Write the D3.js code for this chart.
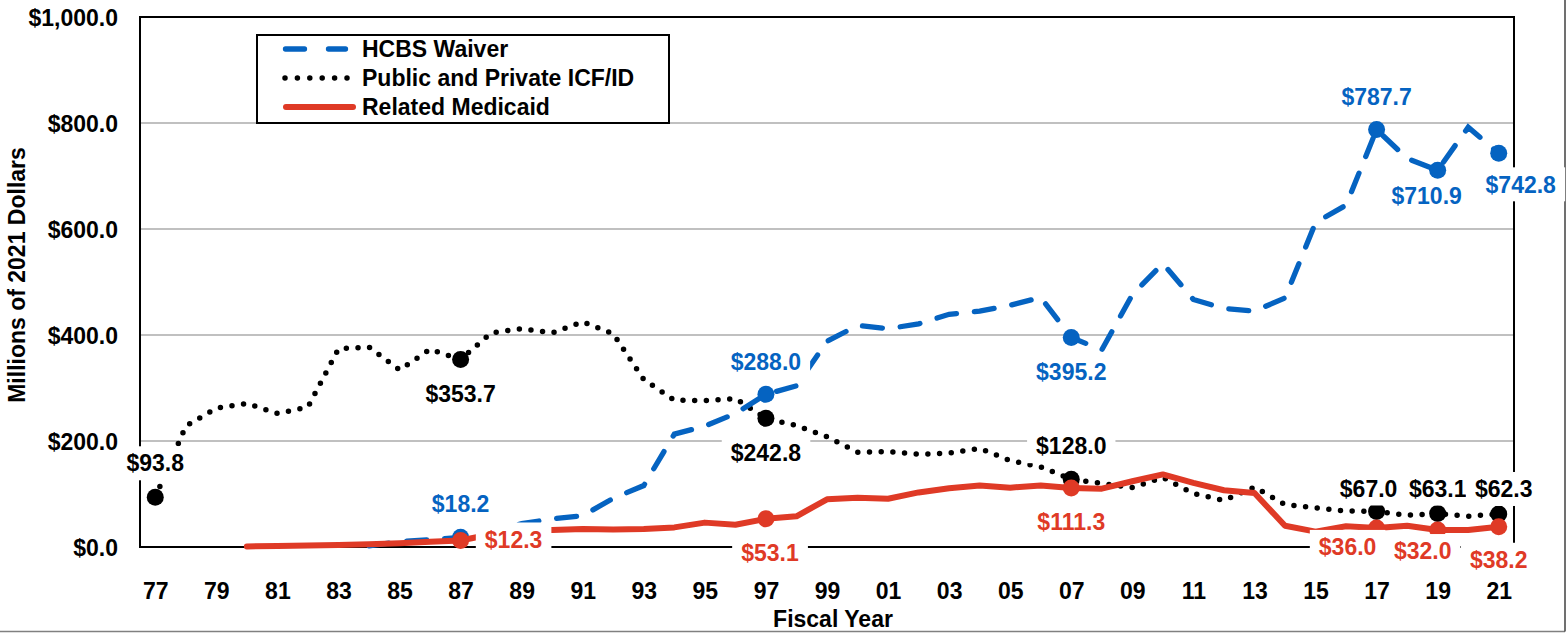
<!DOCTYPE html>
<html><head><meta charset="utf-8">
<script src="https://cdn.jsdelivr.net/npm/d3@7"></script>
<style>
body{margin:0;background:#fff;}
text{font-family:"Liberation Sans",Arial,sans-serif;font-weight:bold;}
</style>
</head><body>
<svg id="chart" width="1567" height="633"></svg>
<script>
// ---------------- DATA ----------------
const years = [1977,1978,1979,1980,1981,1982,1983,1984,1985,1986,1987,1988,1989,1990,1991,1992,1993,1994,1995,1996,1997,1998,1999,2000,2001,2002,2003,2004,2005,2006,2007,2008,2009,2010,2011,2012,2013,2014,2015,2016,2017,2018,2019,2020,2021];
const hcbsWaiver = [null,null,null,null,null,null,null,2,10,14,18.2,30,44,53,59,92,116,213,228,252,288.0,304,388,418,412,421,439,445,456,471,395.2,372,476,535,467,450,445,470,612,645,787.7,733,710.9,792,742.8];
const icfId = [93.8,228,262,271,252,264,374,377,334,373,353.7,404,412,404,425,402,316,277,276,280,242.8,229,208,179,180,175,177,186,163,151,128.0,120,112,131,101,88,113,80,74,68,67.0,60,63.1,58,62.3];
const relatedMedicaid = [null,null,null,1,2,3,4,5,7,10,12.3,24,30,32,34,33,34,37,46,42,53.1,58,90,93,91,103,111,116,112,116,111.3,110,124,137,121,107,102,40,29,39,36.0,40,32.0,32,38.2];
const seriesNames = ["HCBS Waiver","Public and Private ICF/ID","Related Medicaid"];
const xTickYears = [1977,1979,1981,1983,1985,1987,1989,1991,1993,1995,1997,1999,2001,2003,2005,2007,2009,2011,2013,2015,2017,2019,2021];
const xTickLabels = ["77","79","81","83","85","87","89","91","93","95","97","99","01","03","05","07","09","11","13","15","17","19","21"];
const yTickValues = [0,200,400,600,800,1000];
const yTickLabels = ["$0.0","$200.0","$400.0","$600.0","$800.0","$1,000.0"];
const xAxisTitle = "Fiscal Year";
const yAxisTitle = "Millions of 2021 Dollars";
// labelled points: which series / year
const labelledHcbs = [1987,1997,2007,2017,2019,2021];
const labelledIcf = [1977,1987,1997,2007,2017,2019,2021];
const labelledRelated = [1987,1997,2007,2017,2019,2021];

// ---------------- LAYOUT / STYLE ----------------
const BLUE = "#0563C1", RED = "#DF3A26", BLACK = "#000";
const FS = 23;
const plot = {l:140, r:1514, t:17, b:547};
// label offsets (center of label relative to point), per series, same order as labelled years
const hcbsOff = [[0,-34],[0,-33],[0,34],[0,-33],[-11,26],[22,31]];
const icfOff = [[0,-34],[0,34],[0,34],[0,-33],[-8,-23],[0,-25],[5,-25]];
const relOff = [[53,-1],[4,34],[0,34],[-29,19],[-15,21],[0,33]];
const MR = 8.5;

const svg = d3.select("#chart");
svg.append("rect").attr("width",1567).attr("height",633).attr("fill","#fff");

const x = d3.scalePoint().domain(years).range([plot.l, plot.r]).padding(0.5);
const y = d3.scaleLinear().domain([0,1000]).range([plot.b, plot.t]);

// gridlines
svg.append("g").selectAll("line").data(yTickValues.filter(v=>v>0 && v<1000)).join("line")
  .attr("x1",plot.l).attr("x2",plot.r).attr("y1",d=>y(d)).attr("y2",d=>y(d))
  .attr("stroke","#c0c0c0").attr("stroke-width",2);

// plot border
svg.append("rect").attr("x",plot.l).attr("y",plot.t).attr("width",plot.r-plot.l).attr("height",plot.b-plot.t)
  .attr("fill","none").attr("stroke","#000").attr("stroke-width",2);

// outer frame (right & bottom)
svg.append("line").attr("x1",0).attr("x2",1565).attr("y1",631.5).attr("y2",631.5).attr("stroke","#808080").attr("stroke-width",1.5);
svg.append("line").attr("x1",1565).attr("x2",1565).attr("y1",0).attr("y2",631.5).attr("stroke","#404040").attr("stroke-width",1.5);

// y axis tick labels
const yAxis = d3.axisLeft(y).tickValues(yTickValues).tickFormat((d,i)=>yTickLabels[i]).tickSize(0).tickPadding(22);
const gy = svg.append("g").attr("transform",`translate(${plot.l},0)`).call(yAxis);
gy.select(".domain").remove();
gy.selectAll("text").attr("font-size",FS).attr("font-family","Liberation Sans, Arial, sans-serif")
  .attr("font-weight","bold").attr("fill","#000").attr("dy","0.35em");

// x axis tick labels
const xAxis = d3.axisBottom(x).tickValues(xTickYears).tickFormat((d,i)=>xTickLabels[i]).tickSize(0).tickPadding(36);
const gx = svg.append("g").attr("transform",`translate(0,${plot.b})`).call(xAxis);
gx.select(".domain").remove();
gx.selectAll("text").attr("font-size",FS).attr("font-family","Liberation Sans, Arial, sans-serif")
  .attr("font-weight","bold").attr("fill","#000").attr("dy","0");
gx.selectAll(".tick text").attr("y",52);

// axis titles
svg.append("text").attr("x",833).attr("y",627).attr("text-anchor","middle").attr("font-size",FS).text(xAxisTitle);
svg.append("text").attr("transform","translate(25,275) rotate(-90)").attr("text-anchor","middle").attr("font-size",FS).text(yAxisTitle);

// lines
const idx = yr => years.indexOf(yr);
const lineGen = arr => d3.line().defined(d=>arr[idx(d)]!=null).x(d=>x(d)).y(d=>y(arr[idx(d)]))(years);

svg.append("path").attr("d",lineGen(icfId)).attr("fill","none").attr("stroke",BLACK)
  .attr("stroke-width",5.5).attr("stroke-linecap","round").attr("stroke-dasharray","0 11.7");
svg.append("g").selectAll("circle").data(labelledIcf).join("circle")
  .attr("cx",d=>x(d)).attr("cy",d=>y(icfId[idx(d)])).attr("r",MR).attr("fill",BLACK);

svg.append("path").attr("d",lineGen(hcbsWaiver)).attr("fill","none").attr("stroke",BLUE)
  .attr("stroke-width",5.3).attr("stroke-linecap","round").attr("stroke-dasharray","20 18");
svg.append("g").selectAll("circle").data(labelledHcbs).join("circle")
  .attr("cx",d=>x(d)).attr("cy",d=>y(hcbsWaiver[idx(d)])).attr("r",MR).attr("fill",BLUE);

svg.append("path").attr("d",lineGen(relatedMedicaid)).attr("fill","none").attr("stroke",RED)
  .attr("stroke-width",6).attr("stroke-linejoin","round").attr("stroke-linecap","round");
svg.append("g").selectAll("circle").data(labelledRelated).join("circle")
  .attr("cx",d=>x(d)).attr("cy",d=>y(relatedMedicaid[idx(d)])).attr("r",MR).attr("fill",RED);

// data labels
const fmt = v => "$" + d3.format(",.1f")(v);
const labelLayer = svg.append("g");
function addLabels(years_, arr, offs, color){
  years_.forEach((yr,i)=>{
    const v = arr[idx(yr)];
    const cx = x(yr)+offs[i][0], cy = y(v)+offs[i][1];
    const g = labelLayer.append("g");
    const rect = g.append("rect").attr("fill","#fff");
    const t = g.append("text").attr("x",cx).attr("y",cy+8.2).attr("text-anchor","middle")
      .attr("font-size",FS).attr("fill",color).text(fmt(v));
    const bb = t.node().getBBox();
    rect.attr("x",bb.x-9).attr("y",cy-17).attr("width",bb.width+18).attr("height",34);
  });
}
addLabels(labelledIcf, icfId, icfOff, BLACK);
addLabels(labelledHcbs, hcbsWaiver, hcbsOff, BLUE);
addLabels(labelledRelated, relatedMedicaid, relOff, RED);

// legend
const lg = svg.append("g");
lg.append("rect").attr("x",257).attr("y",35).attr("width",412).attr("height",88)
  .attr("fill","#fff").attr("stroke","#000").attr("stroke-width",2);
const rows = [49,78,107];
lg.append("line").attr("x1",285.5).attr("x2",345.5).attr("y1",rows[0]).attr("y2",rows[0])
  .attr("stroke",BLUE).attr("stroke-width",5.3).attr("stroke-linecap","round").attr("stroke-dasharray","19 24");
lg.append("line").attr("x1",285).attr("x2",348).attr("y1",rows[1]).attr("y2",rows[1])
  .attr("stroke",BLACK).attr("stroke-width",5.5).attr("stroke-linecap","round").attr("stroke-dasharray","0 12.4");
lg.append("line").attr("x1",286).attr("x2",353).attr("y1",rows[2]).attr("y2",rows[2])
  .attr("stroke",RED).attr("stroke-width",6).attr("stroke-linecap","round");
seriesNames.forEach((n,i)=>{
  lg.append("text").attr("x",362).attr("y",rows[i]+8.2).attr("font-size",FS).attr("fill","#000").text(n);
});
</script>
</body></html>
